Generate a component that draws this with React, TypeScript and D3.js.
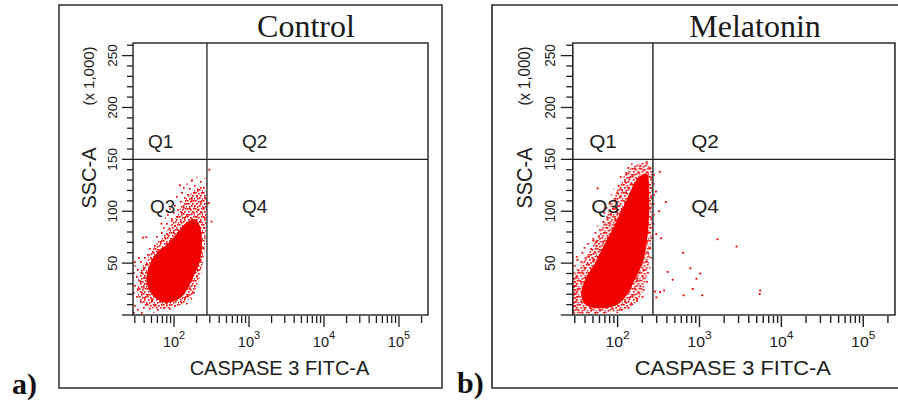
import React from 'react';
import * as d3 from 'd3';

type Pt = [number, number]; // [CASPASE 3 FITC-A, SSC-A (x 1,000)]

// ---------- data ----------
const xDecades = [2, 3, 4, 5];
const yTickLabels = [50, 100, 150, 200, 250];
const gateSSC = 150;

const controlGateFITC = 275;
const controlCore: Pt[] = [[47, 48], [61, 61], [83, 69], [113, 80], [145, 89], [189, 92.5], [220, 86], [236, 70], [220, 51], [179, 36], [145, 23], [113, 15], [75, 12], [55, 17], [45, 26], [43, 37]];
const controlFringe: Pt[] = [[35, 41], [44, 55], [57.5, 68], [78, 80], [103, 93], [132, 108], [174, 118], [229, 124], [267, 118], [267, 86.5], [251, 58], [215, 34], [163, 16], [113, 9], [65, 6], [41, 9], [33, 19]];
const controlHalo: Pt[] = [[28, 43], [36, 55], [48, 67], [65, 83], [83, 100], [110, 116], [145, 126], [196, 133], [259, 132], [276, 114], [267, 81], [244, 51], [203, 24.5], [149, 10], [88, 4], [48, 2], [28, 1]];
const controlStripe: Pt[] = [];
const controlOutliers: Pt[] = [[296, 140], [290, 108], [316, 90], [38.6, 74.5], [34, 55], [30, 51], [42.6, 75], [68, 88], [120, 125]];

const melatoninGateFITC = 270;
const melatoninCore: Pt[] = [[182, 133], [228, 136], [242, 119], [242, 95], [228, 72], [204, 51], [162, 34], [129, 19], [97, 9.4], [58, 6.6], [41, 9.4], [36, 19], [40, 34], [51, 48], [65, 64], [82, 79], [103, 95], [129, 111], [153, 124]];
const melatoninFringe: Pt[] = [[29.5, 38.5], [38, 51], [49, 65.4], [61.7, 80.8], [77.4, 100], [97, 119], [122, 135], [162, 144], [228, 147], [263, 140], [263, 102], [255, 67], [228, 38.5], [182, 16], [129, 6], [67, 2], [38, 2], [27.8, 3]];
const melatoninHalo: Pt[] = [[27.5, 51], [33, 60.4], [44, 71.7], [58, 88.7], [77, 109.4], [97, 128.3], [122, 141.5], [162, 147.2], [228, 148.1], [270, 145.3], [286, 119], [278, 81], [255, 48], [228, 24.5], [182, 9.4], [119, 2.8], [58, 0.9], [27.5, 0.9]];
const melatoninStripe: Pt[] = [[27.5, 36], [32.8, 36], [32.8, 7], [27.5, 7]];
const melatoninOutliers: Pt[] = [[327, 138], [294, 119], [388, 109], [321, 100], [297, 78], [340, 74], [1656, 73], [2838, 66], [630, 60], [408, 41.5], [774, 45], [1020, 40], [471, 34], [918, 35], [826, 25], [370, 23.6], [330, 22], [297, 17], [640, 19], [1080, 19], [5510, 23.6], [5430, 20.3], [286, 22.6], [27.5, 103], [57, 122], [32.4, 53], [54.6, 70]];

// ---------- layout ----------
const X_MIN = Math.pow(10, 1.453);
const X_MAX = Math.pow(10, 5.387);
const Y_MAX = 262.144;
const BOX_W = 383;
const PL = 74, PR = 369, PT = 43, PB = 315;
const RED = '#f20000';
const INK = '#202020';
const SANS = 'Liberation Sans, Arial, sans-serif';
const SERIF = 'Liberation Serif, Times New Roman, serif';

const sparseDots: Pt[] = [[1, 1], [7, 3], [12, 0], [4, 7], [10, 8], [15, 5], [2, 12], [8, 14], [14, 12], [17, 16], [5, 17], [12, 18], [18, 9]];
const denseDots: Pt[] = [[0, 0], [3, 1], [6, 0], [1, 3], [5, 3], [2, 6], [4, 5], [7, 6]];

interface PanelProps {
  id: string;
  gate: number;
  core: Pt[];
  fringe: Pt[];
  halo: Pt[];
  stripe: Pt[];
  outliers: Pt[];
}

function Panel({ id, gate, core, fringe, halo, stripe, outliers }: PanelProps) {
  const x = d3.scaleLog().domain([X_MIN, X_MAX]).range([PL, PR]);
  const y = d3.scaleLinear().domain([0, Y_MAX]).range([PB, PT]);
  const shape = d3.line<Pt>().x(d => x(d[0])).y(d => y(d[1])).curve(d3.curveCatmullRomClosed.alpha(0.5));
  const poly = d3.line<Pt>().x(d => x(d[0])).y(d => y(d[1]));

  const xMinor: { v: number; major: boolean }[] = [];
  for (let k = 1; k <= 5; k++) {
    for (let m = 1; m <= 9; m++) {
      const v = m * Math.pow(10, k);
      if (v >= X_MIN && v <= X_MAX) xMinor.push({ v, major: m === 1 });
    }
  }
  const yTicks = d3.range(0, 261, 10);

  return (
    <g>
      <rect x={0} y={5} width={BOX_W} height={383} fill="none" stroke="#3a3a3a" strokeWidth={1.6} />
      <clipPath id={`clip-${id}`}>
        <rect x={PL} y={PT} width={PR - PL} height={PB - PT} />
      </clipPath>
      <g clipPath={`url(#clip-${id})`}>
        <path d={shape(halo) || ''} fill="url(#sparse)" />
        <path d={shape(fringe) || ''} fill="url(#dense)" />
        <path d={shape(core) || ''} fill={RED} />
        {stripe.length > 0 && <path d={(poly(stripe) || '') + 'Z'} fill="url(#dense)" />}
        {outliers.map((d, i) => (
          <rect key={i} x={x(d[0]) - 0.9} y={y(d[1]) - 0.9} width={1.8} height={1.8} fill={RED} />
        ))}
      </g>
      {/* gates */}
      <line x1={x(gate)} x2={x(gate)} y1={PT} y2={PB} stroke={INK} strokeWidth={1.3} />
      <line x1={PL} x2={PR} y1={y(gateSSC)} y2={y(gateSSC)} stroke={INK} strokeWidth={1.3} />
      <rect x={PL} y={PT} width={PR - PL} height={PB - PT} fill="none" stroke={INK} strokeWidth={1.4} />

      {/* y axis */}
      {yTicks.map(v => (
        <line key={v} x1={PL - (v % 50 === 0 ? 11 : 6)} x2={PL} y1={y(v)} y2={y(v)} stroke={INK} strokeWidth={1.3} />
      ))}
      {yTickLabels.map(v => (
        <text key={v} transform={`translate(${PL - 16},${y(v)}) rotate(-90)`} textAnchor="middle" fontFamily={SANS} fontSize={13.5} fill={INK}>{v}</text>
      ))}
      <text transform={`translate(35,76) rotate(-90)`} textAnchor="middle" fontFamily={SANS} fontSize={15} fill={INK}>(x 1,000)</text>
      <text transform={`translate(37,178) rotate(-90)`} textAnchor="middle" fontFamily={SANS} fontSize={20} fill={INK}>SSC-A</text>

      {/* x axis */}
      {xMinor.map((t, i) => (
        <line key={i} x1={x(t.v)} x2={x(t.v)} y1={PB + 1} y2={PB + (t.major ? 12 : 8)} stroke={INK} strokeWidth={1.3} />
      ))}
      {xDecades.map(k => (
        <text key={k} x={x(Math.pow(10, k))} y={347} textAnchor="middle" fontFamily={SANS} fontSize={14.5} fill={INK}>
          10<tspan fontSize={11} dy={-8}>{k}</tspan>
        </text>
      ))}
      <text x={220.5} y={375} textAnchor="middle" fontFamily={SANS} fontSize={20} fill={INK}>CASPASE 3 FITC-A</text>

      {/* quadrant labels */}
      <text x={PL + 15} y={148} fontFamily={SANS} fontSize={19} fill={INK}>Q1</text>
      <text x={x(gate) + 35} y={148} fontFamily={SANS} fontSize={19} fill={INK}>Q2</text>
      <text x={PL + 17} y={213} fontFamily={SANS} fontSize={19} fill={INK}>Q3</text>
      <text x={x(gate) + 35} y={213} fontFamily={SANS} fontSize={19} fill={INK}>Q4</text>
    </g>
  );
}

export default function App() {
  return (
    <svg width={898} height={403} style={{ position: 'absolute', left: 0, top: 0, background: '#fff' }}>
      <defs>
        <pattern id="sparse" width={20} height={20} patternUnits="userSpaceOnUse">
          {sparseDots.map((d, i) => <rect key={i} x={d[0]} y={d[1]} width={1.7} height={1.7} fill={RED} />)}
        </pattern>
        <pattern id="dense" width={8} height={8} patternUnits="userSpaceOnUse">
          {denseDots.map((d, i) => <rect key={i} x={d[0]} y={d[1]} width={1.6} height={1.6} fill={RED} />)}
        </pattern>
      </defs>
      <rect width={898} height={403} fill="#fff" />
      <g transform="translate(59,0)">
        <Panel id="a" gate={controlGateFITC} core={controlCore} fringe={controlFringe} halo={controlHalo} stripe={controlStripe} outliers={controlOutliers} />
      </g>
      <g transform="translate(492,0) scale(1.092,1)">
        <Panel id="b" gate={melatoninGateFITC} core={melatoninCore} fringe={melatoninFringe} halo={melatoninHalo} stripe={melatoninStripe} outliers={melatoninOutliers} />
      </g>
      <text x={306} y={36.5} textAnchor="middle" fontFamily={SERIF} fontSize={32} fill="#1a1a1a">Control</text>
      <text x={755} y={36.5} textAnchor="middle" fontFamily={SERIF} fontSize={32} fill="#1a1a1a">Melatonin</text>
      <text x={12} y={394} fontFamily={SERIF} fontWeight="bold" fontSize={30} fill="#111">a)</text>
      <text x={457} y={393} fontFamily={SERIF} fontWeight="bold" fontSize={30} fill="#111">b)</text>
    </svg>
  );
}
